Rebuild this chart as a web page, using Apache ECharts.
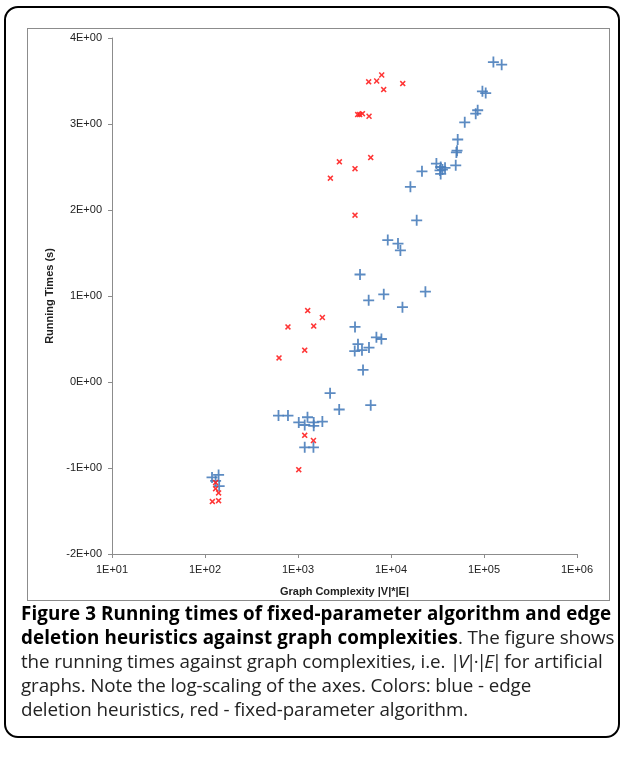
<!DOCTYPE html>
<html lang="en">
<head>
<meta charset="UTF-8">
<title>Figure 3</title>
<script src="https://cdn.jsdelivr.net/npm/echarts@6/dist/echarts.min.js"></script>
<style>
  body { margin: 0; background: #fff; width: 624px; height: 765px; position: relative; overflow: hidden; }
  #box { position: absolute; left: 4px; top: 6px; width: 612px; height: 728px; border: 2px solid #000; border-radius: 14px; }
  #frame { position: absolute; left: 27px; top: 28px; width: 581px; height: 571px; border: 1px solid #8c8c8c; }
  #chart { position: absolute; left: 0; top: 0; width: 624px; height: 610px; }
  #caption { position: absolute; left: 21px; top: 601px; font-family: "Open Sans", sans-serif; font-size: 18.8px; line-height: 24px; color: #222; white-space: nowrap; letter-spacing: -0.1px; }
  #caption b { font-weight: 700; color: #000; letter-spacing: 0.1px; }
  #caption .ve { letter-spacing: -2.4px; }
</style>
</head>
<body>
<div id="box"></div>
<div id="frame"></div>
<div id="chart"></div>
<div id="caption">
  <b>Figure 3 Running times of fixed-parameter algorithm and edge</b><br>
  <b>deletion heuristics against graph complexities</b>. The figure shows<br>
  the running times against graph complexities, i.e. <span class="ve">|<i>V</i>|·|<i>E</i>|</span> for artificial<br>
  graphs. Note the log-scaling of the axes. Colors: blue - edge<br>
  deletion heuristics, red - fixed-parameter algorithm.
</div>
<script>
  // 边删除启发式 (blue)
  let heurX = [126200, 154900, 96160, 104300, 85500, 81470, 62080, 52150, 51290, 50470,
               49660, 30780, 34210, 33650, 35710, 38100, 34210, 21530, 16170, 18890,
               9230, 11890, 12620, 4645, 8360, 23440, 5754, 13280, 4102, 6966,
               7887, 4416, 4074, 4875, 5797, 5003, 2213, 2773, 6053, 617,
               780, 1265, 1019, 1181, 1476, 1476, 1828, 1181, 1466, 119,
               140, 130, 142];
  let heurY = [3.72, 3.69, 3.38, 3.36, 3.16, 3.12, 3.02, 2.82, 2.69, 2.67,
               2.52, 2.54, 2.50, 2.46, 2.47, 2.49, 2.42, 2.45, 2.27, 1.88,
               1.65, 1.61, 1.53, 1.25, 1.02, 1.05, 0.95, 0.87, 0.64, 0.52,
               0.50, 0.44, 0.36, 0.37, 0.40, 0.14, -0.13, -0.32, -0.27, -0.39,
               -0.39, -0.41, -0.47, -0.50, -0.47, -0.51, -0.46, -0.76, -0.76, -1.11,
               -1.08, -1.15, -1.21];
  // 固定参数算法 (red)
  let fptX = [5754, 7015, 7943, 8343, 13370, 4385, 4605, 4930, 5806, 6053,
              2786, 4102, 2229, 4102, 1271, 1828, 780, 1476, 1181, 625,
              1181, 1466, 1019, 130, 130, 140, 120, 140];
  let fptY = [3.49, 3.50, 3.57, 3.40, 3.47, 3.11, 3.11, 3.12, 3.09, 2.61,
              2.56, 2.48, 2.37, 1.94, 0.83, 0.75, 0.64, 0.65, 0.37, 0.28,
              -0.62, -0.68, -1.02, -1.17, -1.24, -1.29, -1.39, -1.38];

  let plusPath = 'path://M4.6,0H6.4V4.6H11V6.4H6.4V11H4.6V6.4H0V4.6H4.6Z';
  let crossPath = 'path://M0,1.1L1.1,0L3,1.9L4.9,0L6,1.1L4.1,3L6,4.9L4.9,6L3,4.1L1.1,6L0,4.9L1.9,3Z';

  function pairs(xs, ys) {
    return xs.map(function (x, i) { return [x, ys[i]]; });
  }

  let myChart = echarts.init(document.getElementById('chart'));
  let axisFont = {fontFamily: 'Liberation Sans', fontSize: 11, color: '#222'};
  let option = {
    animation: false,
    grid: {left: 112, right: 47, top: 38, bottom: 56},
    xAxis: {
      type: 'log',
      logBase: 10,
      min: 10,
      max: 1000000,
      name: 'Graph Complexity |V|*|E|',
      nameLocation: 'middle',
      nameGap: 32,
      nameTextStyle: {fontFamily: 'Liberation Sans', fontSize: 11, fontWeight: 'bold', color: '#222'},
      axisLine: {show: true, onZero: false, lineStyle: {color: '#8c8c8c', width: 1}},
      axisTick: {show: true, inside: false, length: 4, lineStyle: {color: '#8c8c8c'}},
      minorTick: {show: false},
      splitLine: {show: false},
      axisLabel: Object.assign({
        margin: 10,
        formatter: function (v) {
          let e = Math.round(Math.log10(v));
          return '1E+' + (e < 10 ? '0' : '') + e;
        }
      }, axisFont)
    },
    yAxis: {
      type: 'value',
      min: -2,
      max: 4,
      interval: 1,
      name: 'Running Times (s)',
      nameLocation: 'middle',
      nameGap: 38,
      nameTextStyle: {fontFamily: 'Liberation Sans', fontSize: 11, fontWeight: 'bold', color: '#222'},
      axisLine: {show: true, onZero: false, lineStyle: {color: '#8c8c8c', width: 1}},
      axisTick: {show: true, inside: false, length: 4, lineStyle: {color: '#8c8c8c'}},
      splitLine: {show: false},
      axisLabel: Object.assign({
        margin: 10,
        formatter: function (v) {
          return (v < 0 ? '-' : '') + Math.abs(v) + 'E+00';
        }
      }, axisFont)
    },
    series: [
      {
        name: 'edge deletion heuristics',
        type: 'scatter',
        symbol: plusPath,
        symbolSize: 11,
        itemStyle: {color: '#4a7ebb', opacity: 0.9},
        data: pairs(heurX, heurY)
      },
      {
        name: 'fixed-parameter algorithm',
        type: 'scatter',
        symbol: crossPath,
        symbolSize: 6,
        itemStyle: {color: '#ff2020', opacity: 0.9},
        data: pairs(fptX, fptY)
      }
    ]
  };
  myChart.setOption(option);
</script>
</body>
</html>
